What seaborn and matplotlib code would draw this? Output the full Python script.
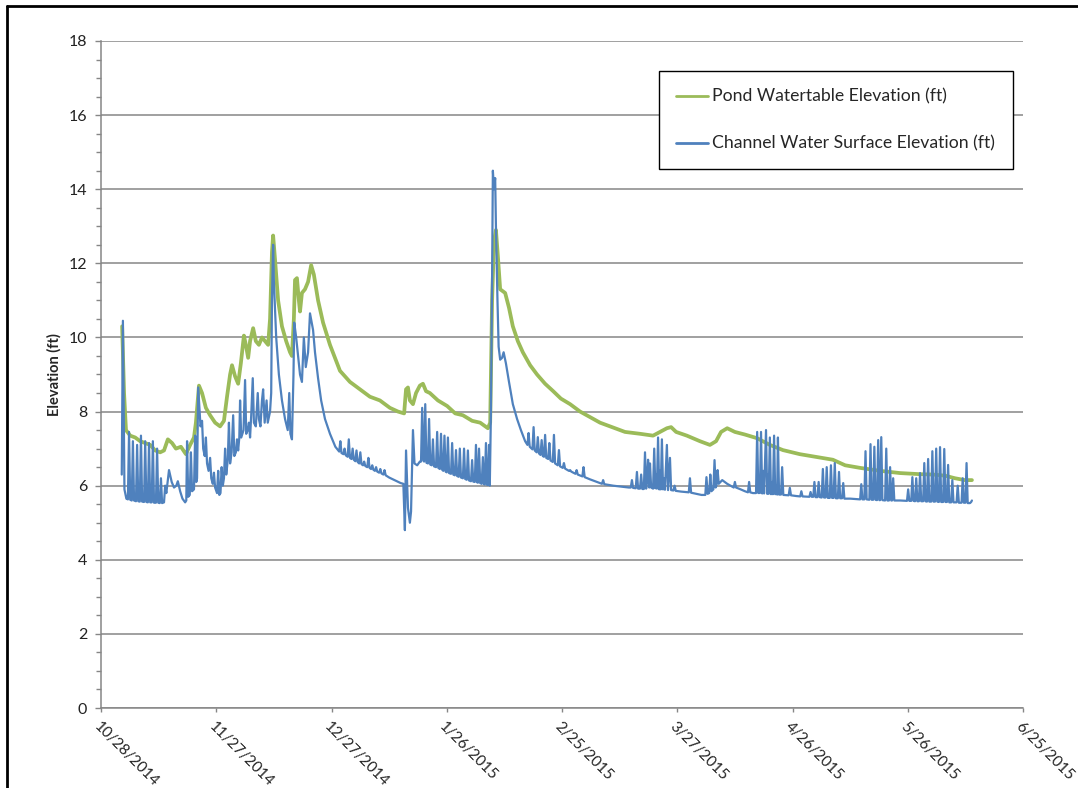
import pandas as pd
import matplotlib
matplotlib.use("Agg")
import matplotlib.pyplot as plt
from matplotlib.ticker import MultipleLocator
from matplotlib.lines import Line2D
import seaborn as sns

# start of the record, days below are counted from here
start = pd.Timestamp("2014-10-28")

x_tick_labels = ["10/28/2014", "11/27/2014", "12/27/2014", "1/26/2015", "2/25/2015",
                 "3/27/2015", "4/26/2015", "5/26/2015", "6/25/2015"]
y_ticks = [0, 2, 4, 6, 8, 10, 12, 14, 16, 18]

# Pond watertable (day, ft)
pond_pts = [
    (5.5, 10.3), (6.0, 8.5), (6.5, 7.5), (7.6, 7.35), (8.9, 7.3), (10.2, 7.2), (11.5, 7.15),
    (12.8, 7.1), (14.1, 6.95), (15.4, 6.9), (16.4, 6.95), (17.4, 7.25), (18.5, 7.15),
    (19.5, 7.0), (20.8, 7.05), (22.1, 6.85), (23.2, 7.1), (24.2, 7.3), (24.7, 7.7),
    (25.5, 8.7), (26.3, 8.5), (27.3, 8.1), (28.4, 7.9), (29.7, 7.7), (31.0, 7.6),
    (32.0, 7.75), (32.8, 8.4), (33.6, 9.0), (34.1, 9.25), (34.9, 8.95), (35.7, 8.75),
    (36.4, 9.3), (37.2, 10.05), (37.7, 9.8), (38.3, 9.45), (38.8, 9.9), (39.6, 10.25),
    (40.3, 9.9), (41.1, 9.8), (41.9, 10.0), (42.7, 9.9), (43.5, 9.8), (44.0, 10.5),
    (44.5, 12.3), (44.8, 12.75), (45.3, 12.1), (46.1, 11.0), (47.1, 10.3), (48.2, 9.9),
    (49.2, 9.6), (49.7, 9.5), (50.2, 10.5), (50.5, 11.55), (51.0, 11.6), (51.5, 11.0),
    (51.8, 10.7), (52.3, 11.2), (53.1, 11.3), (53.9, 11.5), (54.7, 11.95), (55.4, 11.7),
    (56.5, 11.0), (57.8, 10.4), (59.6, 9.8), (62.2, 9.1), (64.8, 8.8), (67.4, 8.6),
    (70.0, 8.4), (72.6, 8.3), (75.2, 8.1), (77.3, 8.0), (78.9, 7.95), (79.4, 8.6),
    (79.9, 8.65), (80.4, 8.3), (81.2, 8.2), (82.0, 8.5), (83.0, 8.7), (83.8, 8.75),
    (84.6, 8.55), (85.6, 8.5), (87.7, 8.3), (90.1, 8.15), (92.2, 7.95), (94.2, 7.9),
    (96.6, 7.75), (98.7, 7.7), (100.7, 7.55), (101.3, 7.7), (101.8, 11.0), (102.3, 12.6),
    (102.8, 12.9), (103.3, 12.2), (103.9, 11.3), (105.2, 11.2), (106.2, 10.8), (107.2, 10.3),
    (108.5, 9.9), (109.8, 9.6), (111.7, 9.25), (113.5, 9.0), (115.6, 8.75), (117.7, 8.55),
    (119.7, 8.35), (122.1, 8.2), (124.7, 8.0), (127.3, 7.85), (129.9, 7.7), (133.3, 7.57),
    (136.4, 7.45), (140.3, 7.4), (143.7, 7.35), (145.5, 7.45), (147.3, 7.55), (148.4, 7.58),
    (149.7, 7.45), (152.5, 7.35), (155.9, 7.2), (158.5, 7.1), (160.1, 7.2), (161.4, 7.45),
    (163.0, 7.55), (165.0, 7.45), (167.6, 7.38), (170.8, 7.28), (174.1, 7.1), (177.5, 6.96),
    (181.9, 6.85), (186.4, 6.77), (190.5, 6.7), (193.7, 6.55), (197.6, 6.48), (202.8, 6.4),
    (208.0, 6.34), (213.2, 6.31), (216.6, 6.3), (219.7, 6.27), (222.3, 6.2), (224.9, 6.15),
    (226.7, 6.15),
]

# Channel water surface (day, ft)
channel_pts = [
    (5.4, 6.3), (5.7, 10.45), (5.9, 8.2), (6.1, 5.9), (6.6, 5.65),
    (7.0, 5.63), (7.3, 7.45), (7.6, 5.62), (8.0, 5.6), (8.3, 7.2), (8.6, 5.6),
    (9.1, 5.58), (9.4, 7.1), (9.7, 5.58), (10.1, 5.57), (10.4, 7.35), (10.7, 5.57),
    (11.2, 5.56), (11.5, 7.2), (11.8, 5.56), (12.2, 5.55), (12.5, 7.15), (12.8, 5.55),
    (13.2, 5.55), (13.5, 7.2), (13.8, 5.54), (14.3, 5.54), (14.6, 7.0), (14.9, 5.54),
    (15.3, 5.53), (15.6, 6.2), (15.9, 5.53), (16.4, 5.55), (16.7, 6.0), (17.0, 5.8),
    (17.7, 6.42), (18.4, 6.1), (19.0, 5.95), (19.6, 6.0), (20.0, 6.12), (20.6, 5.85),
    (21.2, 5.65), (21.9, 5.55),
    (22.2, 5.6), (22.4, 7.2), (22.7, 5.7), (23.1, 5.75), (23.4, 6.9), (23.7, 5.85),
    (24.2, 5.9), (24.5, 7.35), (24.8, 6.1), (25.0, 6.2), (25.3, 8.65), (25.6, 8.1),
    (25.9, 7.6), (26.3, 7.75), (26.6, 7.0), (27.0, 6.8), (27.3, 7.3), (27.6, 6.6),
    (28.0, 6.4), (28.4, 6.75), (28.7, 6.2), (29.1, 6.05), (29.4, 6.35), (29.7, 5.95),
    (30.2, 5.8), (30.5, 6.4), (30.8, 5.75), (31.1, 5.8), (31.4, 6.5), (31.7, 6.0),
    (32.0, 6.2), (32.3, 7.0), (32.6, 6.3), (33.0, 6.7), (33.3, 7.7), (33.6, 6.6),
    (34.0, 6.9), (34.4, 7.9), (34.7, 6.8), (35.1, 6.9), (35.4, 7.25), (35.7, 6.95),
    (36.0, 7.3), (36.2, 8.3), (36.5, 7.3), (37.1, 7.5), (37.5, 8.85), (37.8, 7.4),
    (38.2, 7.5), (38.5, 7.7), (38.8, 7.3), (39.1, 7.9), (39.5, 8.9), (39.8, 7.7),
    (40.3, 7.6), (40.8, 8.5), (41.1, 7.8), (41.5, 7.6), (41.9, 8.3), (42.2, 8.6),
    (42.6, 7.7), (43.1, 8.3), (43.4, 7.7), (44.0, 8.0), (44.3, 8.5), (44.5, 11.0),
    (44.8, 12.5), (45.0, 11.5), (45.6, 10.0), (46.3, 9.0), (47.1, 8.3), (47.9, 7.8),
    (48.6, 7.5), (49.0, 8.5), (49.3, 7.4), (49.7, 7.25), (50.1, 9.0), (50.3, 10.4),
    (50.8, 10.0), (51.3, 9.5), (51.8, 9.0), (52.3, 8.8), (52.8, 10.0), (53.3, 9.2),
    (53.9, 9.6), (54.4, 10.65), (55.2, 10.2), (55.7, 9.6), (56.5, 8.9), (57.3, 8.3),
    (58.3, 7.8), (59.6, 7.4), (61.0, 7.05),
    (62.0, 6.92), (62.3, 7.2), (62.6, 6.88), (63.1, 6.85), (63.4, 7.0), (63.7, 6.82),
    (64.2, 6.78), (64.5, 7.25), (64.8, 6.75), (65.2, 6.72), (65.5, 7.0), (65.8, 6.7),
    (66.2, 6.66), (66.5, 6.95), (66.8, 6.64), (67.2, 6.6), (67.5, 6.9), (67.8, 6.58),
    (68.2, 6.55), (68.5, 6.65), (68.8, 6.53), (69.3, 6.5), (69.6, 6.75), (69.9, 6.48),
    (70.3, 6.45), (70.6, 6.55), (70.9, 6.43), (71.3, 6.4), (71.6, 6.5), (71.9, 6.38),
    (72.4, 6.35), (72.7, 6.45), (73.0, 6.33), (73.5, 6.3), (73.8, 6.42), (74.1, 6.28),
    (75.0, 6.22), (76.0, 6.17), (77.0, 6.12), (78.0, 6.07), (78.7, 6.05),
    (79.1, 4.8), (79.4, 6.95), (79.9, 5.4), (80.4, 5.0), (80.7, 5.3), (81.2, 7.5),
    (81.6, 6.6), (82.3, 6.55), (83.0, 6.65),
    (83.3, 6.65), (83.6, 8.1), (83.9, 6.68), (84.1, 6.65), (84.4, 8.2), (84.7, 6.62),
    (85.1, 6.6), (85.4, 7.8), (85.7, 6.57), (86.1, 6.55), (86.4, 7.25), (86.7, 6.52),
    (87.2, 6.5), (87.5, 7.45), (87.8, 6.48), (88.2, 6.45), (88.5, 7.4), (88.8, 6.43),
    (89.1, 6.4), (89.4, 7.35), (89.7, 6.38), (90.0, 6.36), (90.3, 7.3), (90.6, 6.34),
    (91.1, 6.32), (91.4, 7.15), (91.7, 6.3), (92.1, 6.28), (92.4, 6.96), (92.7, 6.26),
    (93.1, 6.24), (93.4, 7.0), (93.7, 6.22), (94.2, 6.2), (94.5, 7.0), (94.8, 6.18),
    (95.2, 6.16), (95.5, 6.95), (95.8, 6.14), (96.3, 6.12), (96.6, 6.69), (96.9, 6.11),
    (97.3, 6.1), (97.6, 7.1), (97.9, 6.09), (98.1, 6.08), (98.4, 7.0), (98.7, 6.07),
    (99.1, 6.05), (99.4, 6.77), (99.7, 6.04), (99.9, 6.03), (100.2, 7.15), (100.5, 6.02),
    (100.7, 6.02), (101.0, 7.1), (101.2, 6.0),
    (101.5, 8.0), (101.8, 11.6), (102.0, 14.5), (102.3, 14.0), (102.6, 14.3), (102.8, 13.0),
    (103.2, 11.0), (103.5, 9.75), (103.9, 9.4), (104.4, 9.45), (104.8, 9.6), (105.4, 9.3),
    (106.2, 8.8), (107.2, 8.2), (108.3, 7.8), (109.3, 7.5), (110.4, 7.2),
    (111.0, 7.1), (111.3, 7.42), (111.6, 7.05), (112.3, 6.98), (112.6, 7.58), (112.9, 6.95),
    (113.4, 6.9), (113.7, 7.31), (114.0, 6.87), (114.4, 6.83), (114.7, 7.23), (115.0, 6.8),
    (115.3, 6.78), (115.6, 7.37), (115.9, 6.75), (116.4, 6.72), (116.7, 7.15), (117.0, 6.68),
    (117.6, 6.64), (117.9, 7.37), (118.2, 6.6), (118.9, 6.55), (119.2, 6.96), (119.5, 6.52),
    (120.2, 6.48), (120.5, 6.61), (120.8, 6.46), (121.8, 6.4), (122.1, 6.42), (122.4, 6.38),
    (123.5, 6.32), (123.8, 6.42), (124.1, 6.3), (125.3, 6.25), (125.6, 6.5), (125.9, 6.23),
    (127.3, 6.17), (130.4, 6.05), (130.7, 6.15), (131.0, 6.04), (133.3, 6.0), (135.0, 5.98),
    (137.4, 5.95),
    (137.9, 5.95), (138.2, 6.15), (138.5, 5.94), (139.2, 5.93), (139.5, 6.37), (139.8, 5.92),
    (140.3, 5.92), (140.6, 6.3), (140.9, 5.91), (141.3, 5.91), (141.6, 6.9), (141.9, 5.92),
    (142.1, 6.1), (142.4, 6.7), (142.7, 5.95), (142.9, 6.6), (143.2, 5.95), (143.7, 5.92),
    (144.0, 7.0), (144.3, 5.93), (144.5, 6.3), (144.7, 5.92), (145.0, 7.3), (145.3, 5.9),
    (145.5, 6.4), (145.7, 5.9), (146.0, 7.25), (146.3, 5.9), (146.6, 6.2), (146.8, 5.89),
    (147.3, 7.1), (147.6, 5.88), (148.1, 6.75), (148.4, 5.88), (149.0, 5.87), (149.3, 6.0),
    (149.6, 5.86), (151.0, 5.84), (153.0, 5.82), (153.3, 6.2), (153.6, 5.81), (155.0, 5.78),
    (156.3, 5.75),
    (157.3, 5.75), (157.6, 6.23), (157.9, 5.78), (158.3, 5.8), (158.6, 6.3), (158.9, 5.85),
    (159.4, 5.9), (159.7, 6.69), (160.0, 5.95), (160.2, 6.0), (160.5, 6.42), (160.8, 6.05),
    (161.7, 6.15), (163.0, 6.05), (164.7, 5.95), (165.0, 6.1), (165.3, 5.95), (166.5, 5.9),
    (167.6, 5.85), (168.4, 5.82), (168.7, 6.1), (169.0, 5.82), (169.7, 5.8),
    (170.5, 5.8), (170.8, 7.45), (171.1, 5.8), (171.3, 6.2), (171.5, 5.8), (171.8, 7.45),
    (172.1, 5.79), (172.4, 6.4), (172.6, 5.79), (173.1, 7.5), (173.4, 5.78), (173.6, 6.3),
    (173.8, 5.78), (174.1, 7.3), (174.4, 5.77), (174.7, 6.1), (174.9, 5.77), (175.2, 7.35),
    (175.5, 5.77), (175.8, 6.0), (176.0, 5.76), (176.2, 7.3), (176.5, 5.76), (177.0, 5.76),
    (177.3, 6.5), (177.6, 5.75), (179.0, 5.74), (179.3, 5.94), (179.6, 5.74),
    (181.0, 5.72), (182.0, 5.71), (182.3, 5.85), (182.6, 5.71),
    (184.4, 5.7), (184.7, 5.83), (185.0, 5.7), (185.4, 5.7), (185.7, 6.1), (186.0, 5.69),
    (186.5, 5.69), (186.8, 6.1), (187.1, 5.69), (187.6, 5.68), (187.9, 6.45), (188.2, 5.68),
    (188.6, 5.68), (188.9, 6.5), (189.2, 5.67), (189.7, 5.67), (190.0, 6.55), (190.3, 5.67),
    (190.7, 5.67), (191.0, 6.61), (191.3, 5.66), (191.8, 5.66), (192.1, 6.37), (192.4, 5.66),
    (192.9, 5.66), (193.2, 6.07), (193.5, 5.65), (195.0, 5.65),
    (197.6, 5.63), (197.9, 6.04), (198.2, 5.63), (198.7, 5.63), (199.0, 6.93), (199.3, 5.63),
    (200.0, 5.62), (200.3, 7.12), (200.6, 5.62), (201.0, 5.62), (201.3, 7.05), (201.6, 5.62),
    (202.0, 5.61), (202.3, 7.23), (202.6, 5.61), (202.8, 5.61), (203.1, 7.31), (203.4, 5.61),
    (204.1, 5.6), (204.4, 7.0), (204.7, 5.6), (205.1, 5.6), (205.4, 6.5), (205.7, 5.6),
    (205.9, 5.6), (206.2, 6.2), (206.5, 5.6), (208.0, 5.6),
    (209.8, 5.59), (210.1, 5.9), (210.4, 5.59), (210.9, 5.59), (211.2, 6.23), (211.5, 5.59),
    (211.9, 5.58), (212.2, 6.2), (212.5, 5.58), (212.9, 5.58), (213.2, 6.34), (213.5, 5.58),
    (214.0, 5.58), (214.3, 6.61), (214.6, 5.58), (215.0, 5.57), (215.3, 6.72), (215.6, 5.57),
    (216.1, 5.57), (216.4, 6.93), (216.7, 5.57), (217.1, 5.57), (217.4, 7.0), (217.7, 5.57),
    (218.1, 5.56), (218.4, 7.04), (218.7, 5.56), (219.2, 5.56), (219.5, 6.99), (219.8, 5.56),
    (220.2, 5.56), (220.5, 6.56), (220.8, 5.55), (221.3, 5.55), (221.6, 6.15), (221.9, 5.55),
    (222.7, 5.55), (223.0, 6.0), (223.3, 5.54), (224.0, 5.54), (224.3, 6.2), (224.6, 5.54),
    (225.0, 5.54), (225.3, 6.61), (225.6, 5.53), (226.2, 5.53), (226.5, 5.56), (226.7, 5.6),
]

pond_label = "Pond Watertable Elevation (ft)"
channel_label = "Channel Water Surface Elevation (ft)"

GREEN = "#9BBB59"
BLUE = "#4F81BD"
GRAY = "#868686"


def to_frame(pts):
    df = pd.DataFrame(pts, columns=["day", "ft"])
    df["date"] = start + pd.to_timedelta(df["day"], unit="D")
    return df


pond = to_frame(pond_pts)
channel = to_frame(channel_pts)

sns.set_style("white")
plt.rcParams["font.family"] = ["Lato", "DejaVu Sans"]

fig = plt.figure(figsize=(10.78, 7.88), dpi=100)
ax = fig.add_axes([0.0937, 0.1015, 0.8553, 0.8465])

sns.lineplot(data=pond, x="date", y="ft", color=GREEN, linewidth=2.7, sort=False,
             estimator=None, label=pond_label, ax=ax)
sns.lineplot(data=channel, x="date", y="ft", color=BLUE, linewidth=1.6, sort=False,
             estimator=None, label=channel_label, ax=ax)

tick_dates = pd.to_datetime(x_tick_labels, format="%m/%d/%Y")
ax.set_xlim(tick_dates[0], tick_dates[-1])
ax.set_xticks(tick_dates)
ax.set_xticklabels(x_tick_labels, rotation=-45, ha="left", va="top",
                   rotation_mode="anchor", fontsize=11, color="#222222")
ax.set_ylim(0, 18)
ax.set_yticks(y_ticks)
ax.set_yticklabels([str(v) for v in y_ticks], fontsize=11.5, color="#222222")
ax.yaxis.set_minor_locator(MultipleLocator(0.5))

ax.yaxis.grid(True, color=GRAY, linewidth=1.1)
ax.set_axisbelow(True)
for side in ["top", "right"]:
    ax.spines[side].set_visible(False)
for side in ["left", "bottom"]:
    ax.spines[side].set_color(GRAY)
    ax.spines[side].set_linewidth(1.1)

ax.tick_params(axis="y", which="major", length=4, width=1, color=GRAY, pad=6, left=True)
ax.tick_params(axis="y", which="minor", length=3.5, width=1, color=GRAY, left=True)
ax.tick_params(axis="x", which="major", length=3, width=1, color=GRAY, pad=5, bottom=True)

ax.set_xlabel("")
ax.set_ylabel("Elevation (ft)", fontsize=10.5, fontweight="bold", labelpad=5)

leg = ax.legend(loc="upper left", bbox_to_anchor=(0.611, 0.91), bbox_transform=fig.transFigure,
                borderaxespad=0, fontsize=12.7, frameon=True, fancybox=False,
                edgecolor="black", framealpha=1, borderpad=1.0, labelspacing=1.75,
                handlelength=1.8, handletextpad=0.25)
leg.get_frame().set_linewidth(1.0)
for h in leg.legend_handles:
    h.set_linewidth(2.0)

# outer chart border (left and top edges visible in the screenshot)
fig.add_artist(Line2D([0.0065, 0.0065], [0, 0.993], transform=fig.transFigure,
                      color="black", linewidth=2))
fig.add_artist(Line2D([0.0065, 1.0], [0.993, 0.993], transform=fig.transFigure,
                      color="black", linewidth=2))

fig.savefig("out.png", dpi=100)
plt.close(fig)
